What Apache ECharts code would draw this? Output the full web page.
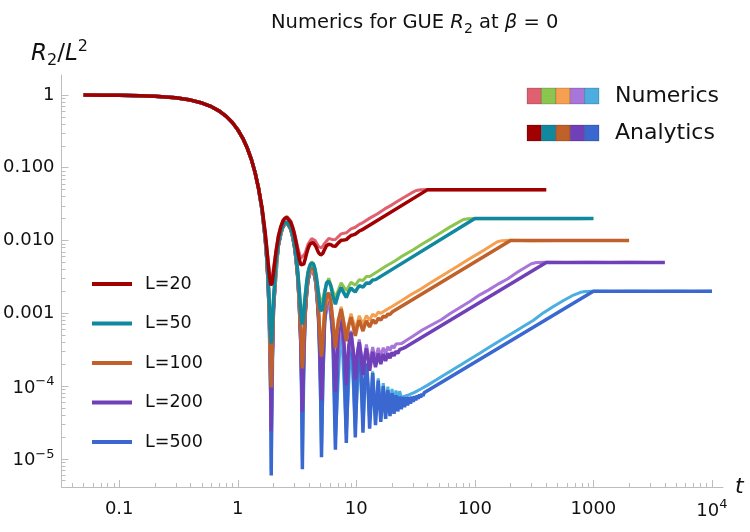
<!DOCTYPE html>
<html>
<head>
<meta charset="utf-8">
<script src="https://cdn.jsdelivr.net/npm/echarts@6/dist/echarts.min.js"></script>
<style>
  html, body { margin: 0; padding: 0; background: #fff; }
  #chart { width: 750px; height: 532px; }
</style>
</head>
<body>
<div id="chart"></div>
<script>
// system sizes and colours (legend order)
const sizes = [20, 50, 100, 200, 500];
const anaColors = ['#A00000', '#1088A0', '#C0602A', '#7040B8', '#3A68D0'];
const numColors = ['#E06070', '#8CC450', '#F4A050', '#A875D8', '#4CADE0'];

// axis ticks
const xTickVals = [0.1, 1, 10, 100, 1000, 10000];
const xTickLabels = ['0.1', '1', '10', '100', '1000', '{b|10}{sup|4}'];
const yTickVals = [1, 0.1, 0.01, 0.001, 1e-4, 1e-5];
const yTickLabels = ['1', '0.100', '0.010', '0.001', '{b|10}{sup|\u22124}', '{b|10}{sup|\u22125}'];

// shared start of every curve, [t, R2/L^2]
const early = [[0.05,0.9975],[0.075,0.9944],[0.1,0.990],[0.15,0.9777],[0.2,0.9607],[0.3,0.9133],[0.4,0.8503],[0.5,0.7746],[0.6,0.6897],[0.7,0.5994],[0.8,0.5075],[0.9,0.4175],[1.0,0.3326],[1.1,0.2554],[1.2,0.1879],[1.3,0.1312],[1.4,0.08565],[1.5,0.05109]];

// analytics
const ana20 = [[1.6,0.02868],[1.7,0.01325],[1.75,0.00835],[1.8,0.00506],[1.85,0.00316],[1.9,0.00242],[1.916,0.002395],[1.95,0.00263],[2.0,0.00359],[2.1,0.00698],[2.2,0.01125],[2.3,0.0153],[2.4,0.01837],[2.5,0.0203],[2.6,0.02068],[2.7,0.01974],[2.8,0.01776],[2.9,0.01513],[3.0,0.01226],[3.1,0.00952],[3.2,0.00722],[3.3,0.00556],[3.4,0.00462],[3.508,0.004385],[3.6,0.00473],[3.7,0.00553],[3.8,0.00655],[3.9,0.0076],[4.0,0.00844],[4.1,0.00903],[4.2,0.00936],[4.3,0.0094],[4.4,0.00918],[4.5,0.0086],[4.6,0.00802],[4.7,0.00736],[4.8,0.00683],[4.9,0.00646],[5.0,0.00633],[5.087,0.00636],[5.2,0.0066],[5.4,0.0075],[5.6,0.00849],[5.85,0.0089],[6.1,0.00878],[6.35,0.00837],[6.662,0.00833],[7.056,0.00927],[7.45,0.01008],[7.84,0.01013],[8.235,0.01029],[8.63,0.01104],[9.02,0.01171],[9.41,0.01195],[9.808,0.01226],[10.59,0.0135],[11.38,0.01423],[40,0.05],[400,0.05]];
const ana50 = [[1.6,0.027],[1.7,0.01146],[1.75,0.00651],[1.8,0.00317],[1.85,0.00122],[1.88,0.000612],[1.9,0.000426],[1.916,0.000383],[1.93,0.00042],[1.95,0.000585],[2.0,0.00149],[2.1,0.00478],[2.2,0.00894],[2.3,0.01288],[2.4,0.01585],[2.5,0.01767],[2.6,0.01795],[2.7,0.0169],[2.8,0.01482],[2.9,0.01208],[3.0,0.00911],[3.1,0.00627],[3.2,0.00386],[3.3,0.00209],[3.4,0.00105],[3.45,0.00079],[3.508,0.000702],[3.55,0.00076],[3.6,0.00095],[3.7,0.00165],[3.8,0.00256],[3.9,0.0035],[4.0,0.00424],[4.1,0.00473],[4.2,0.00495],[4.3,0.00489],[4.4,0.00456],[4.5,0.00387],[4.6,0.00319],[4.7,0.00243],[4.8,0.00179],[4.9,0.00131],[5.0,0.00108],[5.087,0.00102],[5.2,0.00114],[5.4,0.00183],[5.6,0.00261],[5.85,0.00276],[6.1,0.00237],[6.35,0.0017],[6.662,0.00133],[7.056,0.00186],[7.45,0.00226],[7.84,0.0019],[8.235,0.00165],[8.63,0.00197],[9.02,0.00224],[9.41,0.00207],[9.808,0.00196],[10.2,0.00219],[10.59,0.00239],[10.99,0.00232],[11.38,0.00228],[12.17,0.00261],[12.95,0.00259],[13.74,0.00287],[14.52,0.0029],[100,0.02],[1000,0.02]];
const ana100 = [[1.6,0.02676],[1.7,0.0112],[1.75,0.00625],[1.8,0.0029],[1.85,0.00094],[1.88,0.00033],[1.9,0.000141],[1.916,9.58e-5],[1.93,0.000131],[1.95,0.000293],[2.0,0.00119],[2.1,0.00446],[2.2,0.00861],[2.3,0.01254],[2.4,0.01549],[2.5,0.0173],[2.6,0.01756],[2.7,0.0165],[2.8,0.0144],[2.9,0.01165],[3.0,0.00866],[3.1,0.0058],[3.2,0.00338],[3.3,0.0016],[3.4,0.000538],[3.45,0.000275],[3.508,0.000175],[3.55,0.000229],[3.6,0.000408],[3.7,0.00109],[3.8,0.00199],[3.9,0.00292],[4.0,0.00364],[4.1,0.00411],[4.2,0.00432],[4.3,0.00424],[4.4,0.0039],[4.5,0.0032],[4.6,0.0025],[4.7,0.00172],[4.8,0.00107],[4.9,0.000578],[5.0,0.000326],[5.087,0.000254],[5.2,0.000362],[5.4,0.00102],[5.6,0.00177],[5.85,0.00188],[6.1,0.00146],[6.35,0.00075],[6.662,0.000333],[7.056,0.000806],[7.45,0.00114],[7.84,0.000722],[8.235,0.000412],[8.63,0.00068],[9.02,0.000885],[9.41,0.000662],[9.808,0.00049],[10.2,0.00066],[10.59,0.000798],[10.99,0.00067],[11.38,0.000569],[11.77,0.000686],[12.17,0.000786],[12.56,0.000708],[12.95,0.000648],[13.74,0.00081],[14.52,0.000726],[15.31,0.000855],[16.09,0.000805],[16.88,0.00091],[17.67,0.000884],[18.45,0.000973],[19.24,0.000962],[20.02,0.00104],[20.81,0.00104],[200,0.01],[2000,0.01]];
const ana200 = [[1.6,0.0267],[1.7,0.01114],[1.75,0.00618],[1.8,0.002836],[1.85,0.00087],[1.88,0.00026],[1.9,6.9e-5],[1.916,2.4e-5],[1.93,5.8e-5],[1.95,0.000219],[2.0,0.00111],[2.1,0.004385],[2.2,0.008524],[2.3,0.01245],[2.4,0.0154],[2.5,0.0172],[2.6,0.01746],[2.7,0.0164],[2.8,0.0143],[2.9,0.01154],[3.0,0.00854],[3.1,0.005684],[3.2,0.003262],[3.3,0.001475],[3.4,0.00041],[3.45,0.000145],[3.508,4.39e-5],[3.55,9.5e-5],[3.6,0.000273],[3.7,0.000953],[3.8,0.00184],[3.9,0.00277],[4.0,0.00349],[4.1,0.00396],[4.2,0.004166],[4.3,0.00408],[4.4,0.003735],[4.5,0.003028],[4.6,0.002325],[4.7,0.001545],[4.8,0.000893],[4.9,0.000394],[5.0,0.000138],[5.087,6.36e-5],[5.2,0.000167],[5.4,0.000814],[5.6,0.00156],[5.85,0.00166],[6.1,0.00123],[6.35,0.000513],[6.662,8.33e-5],[7.056,0.000541],[7.45,0.000863],[7.84,0.000428],[8.235,0.000103],[8.63,0.000356],[9.02,0.000547],[9.41,0.000309],[9.808,0.000123],[10.2,0.000278],[10.59,0.0004],[10.99,0.000257],[11.38,0.000142],[11.77,0.000245],[12.17,0.000329],[12.56,0.000237],[12.95,0.000162],[13.74,0.000295],[14.52,0.000182],[15.31,0.00028],[16.09,0.000201],[16.88,0.000277],[17.67,0.000221],[18.45,0.000282],[19.24,0.000241],[20.02,0.00029],[20.81,0.00026],[21.6,0.000302],[22.38,0.00028],[23.17,0.000316],[23.95,0.000299],[24.74,0.00033],[25.53,0.000319],[26.31,0.000346],[27.1,0.000339],[400,0.005],[4000,0.005]];
const ana500 = [[1.6,0.02668],[1.7,0.01112],[1.75,0.00617],[1.8,0.002817],[1.85,0.000851],[1.88,0.00024],[1.9,4.93e-5],[1.916,5.9e-6],[1.93,3.8e-5],[1.95,0.000199],[2.0,0.001094],[2.1,0.004363],[2.2,0.0085],[2.3,0.012425],[2.4,0.015375],[2.5,0.017175],[2.6,0.017435],[2.7,0.016365],[2.8,0.014266],[2.9,0.011506],[3.0,0.008512],[3.1,0.005651],[3.2,0.003228],[3.3,0.00144],[3.4,0.000375],[3.45,0.000109],[3.508,7.2e-6],[3.55,5.8e-5],[3.6,0.000235],[3.7,0.000914],[3.8,0.001803],[3.9,0.00273],[4.0,0.003449],[4.1,0.003916],[4.2,0.004122],[4.3,0.004036],[4.4,0.003689],[4.5,0.002981],[4.6,0.002276],[4.7,0.001495],[4.8,0.000843],[4.9,0.000343],[5.0,8.56e-5],[5.087,1.05e-5],[5.2,0.000112],[5.4,0.000757],[5.6,0.0015],[5.85,0.0016],[6.1,0.001166],[6.35,0.000447],[6.662,1.33e-5],[7.056,0.000467],[7.45,0.000785],[7.84,0.000346],[8.235,1.65e-5],[8.63,0.000265],[9.02,0.000452],[9.41,0.00021],[9.808,1.96e-5],[10.2,0.00017],[10.59,0.000289],[10.99,0.000142],[11.38,2.28e-5],[11.77,0.000121],[12.17,0.000201],[12.56,0.000105],[12.95,2.59e-5],[13.74,0.000151],[14.52,2.9e-5],[15.31,0.000119],[16.09,3.22e-5],[16.88,0.0001],[17.67,3.53e-5],[18.45,8.76e-5],[19.24,3.85e-5],[20.02,7.97e-5],[20.81,4.16e-5],[21.6,7.48e-5],[22.38,4.48e-5],[23.17,7.19e-5],[23.95,4.79e-5],[24.74,7.05e-5],[25.53,5.11e-5],[26.31,7.01e-5],[27.1,5.42e-5],[27.88,7.05e-5],[28.67,5.73e-5],[29.45,7.14e-5],[30.24,6.05e-5],[31.02,7.27e-5],[31.81,6.36e-5],[32.6,7.44e-5],[33.38,6.68e-5],[34.17,7.63e-5],[34.96,6.99e-5],[35.74,7.85e-5],[36.53,7.31e-5],[37.31,8.07e-5],[38.1,7.62e-5],[1000,0.002],[10000,0.002]];

// numerics
const num20 = [[1.6,0.02916],[1.7,0.01376],[1.8,0.0056],[1.85,0.00372],[1.9,0.00299],[1.916,0.00297],[1.95,0.00322],[2.0,0.00419],[2.2,0.0119],[2.4,0.01909],[2.6,0.02146],[2.8,0.0186],[3.0,0.01316],[3.2,0.00818],[3.4,0.00564],[3.508,0.00544],[3.7,0.00664],[3.9,0.00877],[4.2,0.01062],[4.5,0.00995],[4.8,0.00827],[5.087,0.00788],[5.4,0.00912],[5.85,0.01066],[6.35,0.01028],[6.662,0.01033],[7.45,0.01232],[8.235,0.01276],[9.02,0.01441],[9.808,0.0152],[10.59,0.01668],[11.38,0.01764],[13,0.0203],[15,0.0231],[17.5,0.0274],[20,0.0309],[23,0.0358],[26,0.0402],[29,0.0447],[32,0.0487],[35,0.0499],[40,0.0502],[50,0.0499],[70,0.0501],[100,0.0498],[150,0.0502],[200,0.0499],[300,0.0501],[400,0.05]];
const num50 = [[1.6,0.02708],[1.7,0.01154],[1.8,0.00326],[1.9,0.000517],[1.916,0.000475],[2.0,0.00159],[2.2,0.00904],[2.4,0.01597],[2.6,0.01808],[2.8,0.01495],[3.0,0.00925],[3.2,0.00402],[3.4,0.00121],[3.508,0.00087],[3.7,0.00183],[3.9,0.00369],[4.2,0.00516],[4.5,0.00409],[4.8,0.00202],[5.087,0.00126],[5.4,0.00209],[5.85,0.00304],[6.35,0.00201],[6.662,0.00165],[7.45,0.00262],[8.235,0.00204],[9.02,0.00267],[9.808,0.00243],[10.59,0.00289],[11.38,0.00282],[12.17,0.0032],[12.95,0.00321],[15,0.00371],[18,0.00449],[21,0.00518],[25,0.00625],[30,0.00741],[36,0.00897],[43,0.01062],[50,0.0124],[60,0.0149],[70,0.0172],[80,0.0194],[88,0.0199],[100,0.0201],[150,0.0199],[200,0.0201],[300,0.0199],[500,0.0201],[700,0.0199],[1000,0.02]];
const num100 = [[1.6,0.02678],[1.7,0.01123],[1.8,0.00293],[1.9,0.000163],[1.916,0.000119],[2.0,0.00121],[2.2,0.00863],[2.4,0.01552],[2.6,0.01759],[2.8,0.01443],[3.0,0.00869],[3.2,0.00342],[3.4,0.000579],[3.508,0.000217],[3.7,0.00114],[3.9,0.00296],[4.2,0.00437],[4.5,0.00325],[4.8,0.00113],[5.087,0.000315],[5.4,0.00108],[5.85,0.00195],[6.35,0.00083],[6.662,0.000413],[7.45,0.00123],[8.235,0.000511],[9.02,0.00099],[9.808,0.000608],[10.59,0.000925],[11.38,0.000706],[12.17,0.00093],[12.95,0.000803],[13.74,0.000975],[14.52,0.0009],[15.31,0.00104],[16.09,0.000998],[17.67,0.0011],[20,0.00124],[24,0.00149],[29,0.00181],[35,0.00215],[42,0.0026],[50,0.00311],[60,0.00372],[72,0.00445],[86,0.00535],[100,0.0062],[120,0.00742],[140,0.00868],[155,0.0096],[170,0.00995],[200,0.01005],[300,0.00995],[500,0.01003],[800,0.00998],[1200,0.01002],[2000,0.01]];
const num200 = [[1.6,0.0267],[1.7,0.01115],[1.8,0.00284],[1.9,7.6e-5],[1.916,3.1e-5],[2.0,0.00112],[2.2,0.00853],[2.4,0.01541],[2.6,0.01747],[2.8,0.0143],[3.0,0.00855],[3.2,0.00327],[3.4,0.000422],[3.508,5.6e-5],[3.7,0.000966],[3.9,0.00278],[4.2,0.00418],[4.5,0.00304],[4.8,0.00091],[5.087,8.1e-5],[5.4,0.000832],[5.85,0.00168],[6.35,0.000536],[6.662,0.000107],[7.45,0.000889],[8.235,0.000132],[9.02,0.000578],[9.808,0.000157],[10.59,0.000437],[11.38,0.000182],[12.17,0.000372],[12.95,0.000207],[13.74,0.000343],[14.52,0.000232],[15.31,0.000334],[16.09,0.000257],[16.88,0.000336],[17.67,0.000283],[18.45,0.000346],[19.24,0.000308],[20.02,0.00036],[20.81,0.000333],[21.6,0.000378],[22.38,0.000358],[23.95,0.000383],[25.53,0.000408],[30,0.000482],[36,0.000588],[43,0.00069],[52,0.000815],[62,0.00099],[75,0.0012],[90,0.00144],[110,0.00179],[130,0.00208],[160,0.00256],[190,0.00298],[230,0.00368],[270,0.00432],[300,0.0048],[330,0.00499],[400,0.00503],[600,0.00497],[900,0.00502],[1400,0.00498],[2000,0.00501],[3000,0.00499],[4000,0.005]];
const num500 = [[1.6,0.02668],[1.7,0.01112],[1.8,0.002818],[1.9,5.1e-5],[1.916,7e-6],[2.0,0.001095],[2.2,0.0085],[2.4,0.015376],[2.6,0.017437],[2.8,0.014267],[3.0,0.008514],[3.2,0.00323],[3.4,0.000377],[3.508,9.5e-6],[3.7,0.000917],[3.9,0.002733],[4.2,0.004125],[4.5,0.002984],[4.8,0.000846],[5.087,1.4e-5],[5.4,0.00076],[5.85,0.001604],[6.35,0.00045],[6.662,1.8e-5],[7.45,0.00079],[8.235,2.2e-5],[9.02,0.000457],[9.808,2.6e-5],[10.59,0.000296],[11.38,3.0e-5],[12.17,0.000209],[12.95,3.4e-5],[13.74,0.000159],[14.52,3.9e-5],[15.31,0.000128],[16.09,4.3e-5],[16.88,0.00011],[17.67,4.7e-5],[18.45,9.8e-5],[19.24,5.2e-5],[20.02,9.1e-5],[20.81,5.6e-5],[21.6,8.7e-5],[22.38,6.1e-5],[23.17,8.5e-5],[24,7.0e-5],[26,7.3e-5],[28,7.6e-5],[31,8.2e-5],[35,9.1e-5],[40,0.000103],[47,0.000121],[55,0.000142],[65,0.000167],[77,0.000198],[90,0.000232],[110,0.000283],[130,0.000335],[160,0.000412],[200,0.000515],[250,0.000643],[310,0.000797],[380,0.00102],[460,0.00124],[560,0.0015],[680,0.00178],[780,0.00194],[850,0.00199],[1000,0.00201],[1500,0.00199],[2200,0.00201],[3300,0.00199],[5000,0.00201],[7000,0.00199],[10000,0.002]];

const anaData = [ana20, ana50, ana100, ana200, ana500];
const numData = [num20, num50, num100, num200, num500];

const font = '"DejaVu Sans", sans-serif';
const xMin = 0.0326, xMax = 12400;
const yMin = 4.1e-6, yMax = 1.88;

// minor ticks at 2..9 x 10^k
function minorTicks(lo, hi, kFrom, kTo) {
  const out = [];
  for (let k = kFrom; k <= kTo; k++) {
    for (let m = 2; m <= 9; m++) {
      const v = m * Math.pow(10, k);
      if (v > lo && v < hi) out.push(v);
    }
  }
  return out;
}

function pickLabel(vals, labels) {
  return function (v) {
    for (let i = 0; i < vals.length; i++) {
      if (Math.abs(Math.log10(v) - Math.log10(vals[i])) < 1e-6) return labels[i];
    }
    return '';
  };
}

const labelRich = {
  b: { fontFamily: font, fontSize: 18, color: '#111', lineHeight: 22, verticalAlign: 'bottom' },
  sup: { fontFamily: font, fontSize: 13, color: '#111', lineHeight: 12, verticalAlign: 'top' }
};
const axisGray = '#bdbdbd';

const series = [];
for (let i = sizes.length - 1; i >= 0; i--) {
  series.push({
    name: 'num L=' + sizes[i],
    type: 'line',
    symbol: 'none',
    data: early.concat(numData[i]),
    lineStyle: { color: numColors[i], width: 3 },
    itemStyle: { color: numColors[i] }
  });
  series.push({
    name: 'L=' + sizes[i],
    type: 'line',
    symbol: 'none',
    data: early.concat(anaData[i]),
    lineStyle: { color: anaColors[i], width: 3.5 },
    itemStyle: { color: anaColors[i] }
  });
}

// colour-block legend, top right
const graphic = [];
numColors.forEach((c, i) => {
  graphic.push({ type: 'rect', shape: { x: 527 + i * 14.4, y: 88, width: 14.4, height: 16 },
    style: { fill: c, stroke: 'rgba(0,0,0,0.18)', lineWidth: 1 } });
});
anaColors.forEach((c, i) => {
  graphic.push({ type: 'rect', shape: { x: 527 + i * 14.4, y: 125, width: 14.4, height: 16 },
    style: { fill: c, stroke: 'rgba(0,0,0,0.18)', lineWidth: 1 } });
});
graphic.push({ type: 'text', x: 615, y: 96, style: { text: 'Numerics', font: '22px ' + font, fill: '#111', verticalAlign: 'middle' } });
graphic.push({ type: 'text', x: 615, y: 133, style: { text: 'Analytics', font: '22px ' + font, fill: '#111', verticalAlign: 'middle' } });

const myChart = echarts.init(document.getElementById('chart'));
const option = {
  animation: false,
  backgroundColor: '#fff',
  title: {
    text: 'Numerics for GUE {it|R}{sub|2} at {it|\u03b2} = 0',
    left: 266,
    top: 5,
    textStyle: {
      fontFamily: font, fontSize: 19.5, fontWeight: 'normal', color: '#111', lineHeight: 26,
      rich: {
        it: { fontFamily: font, fontSize: 19.5, fontStyle: 'italic', color: '#111', lineHeight: 26 },
        sub: { fontFamily: font, fontSize: 14, color: '#111', lineHeight: 14, verticalAlign: 'bottom' }
      }
    }
  },
  grid: { left: 59, right: 27, top: 75, bottom: 45 },
  legend: {
    data: sizes.map(L => 'L=' + L),
    orient: 'vertical',
    left: 92,
    top: 274,
    padding: 0,
    itemGap: 19.5,
    itemWidth: 40,
    itemHeight: 4,
    icon: 'rect',
    itemStyle: { borderWidth: 0 },
    textStyle: { fontFamily: font, fontSize: 17.5, color: '#111', lineHeight: 20, padding: [0, 0, 0, 8] }
  },
  xAxis: [
    {
      type: 'log', logBase: 10, min: xMin, max: xMax, position: 'bottom',
      name: 't', nameLocation: 'end', nameGap: 12,
      nameTextStyle: { fontFamily: font, fontSize: 22, fontStyle: 'italic', color: '#111', verticalAlign: 'middle' },
      axisLine: { lineStyle: { color: axisGray, width: 1 } },
      axisTick: { inside: true, length: 7, lineStyle: { color: axisGray }, customValues: xTickVals },
      axisLabel: { customValues: xTickVals, formatter: pickLabel(xTickVals, xTickLabels), margin: 11,
        fontFamily: font, fontSize: 18, color: '#111', lineHeight: 22, rich: labelRich },
      splitLine: { show: false }
    },
    {
      type: 'log', logBase: 10, min: xMin, max: xMax, position: 'bottom',
      axisLine: { show: false },
      axisTick: { inside: true, length: 4, lineStyle: { color: axisGray }, customValues: minorTicks(xMin, xMax, -2, 4) },
      axisLabel: { show: false },
      splitLine: { show: false }
    }
  ],
  yAxis: [
    {
      type: 'log', logBase: 10, min: yMin, max: yMax, position: 'left',
      name: '{it|R}{sub|2}/{it|L}{sup|2}', nameLocation: 'end', nameGap: 6,
      nameTextStyle: {
        fontFamily: font, fontSize: 23, color: '#111', lineHeight: 30, padding: [0, 4, 0, 0],
        rich: {
          it: { fontFamily: font, fontSize: 23, fontStyle: 'italic', color: '#111', lineHeight: 30 },
          sub: { fontFamily: font, fontSize: 16, color: '#111', lineHeight: 16, verticalAlign: 'bottom' },
          sup: { fontFamily: font, fontSize: 16, color: '#111', lineHeight: 16, verticalAlign: 'top' }
        }
      },
      axisLine: { show: true, lineStyle: { color: axisGray, width: 1 } },
      axisTick: { show: true, inside: true, length: 7, lineStyle: { color: axisGray }, customValues: yTickVals },
      axisLabel: { customValues: yTickVals, formatter: pickLabel(yTickVals, yTickLabels), margin: 7,
        fontFamily: font, fontSize: 18, color: '#111', lineHeight: 22, rich: labelRich },
      splitLine: { show: false }
    },
    {
      type: 'log', logBase: 10, min: yMin, max: yMax, position: 'left',
      axisLine: { show: false },
      axisTick: { show: true, inside: true, length: 4, lineStyle: { color: axisGray }, customValues: minorTicks(yMin, yMax, -6, 0) },
      axisLabel: { show: false },
      splitLine: { show: false }
    }
  ],
  graphic: graphic,
  series: series
};
myChart.setOption(option);
</script>
</body>
</html>
